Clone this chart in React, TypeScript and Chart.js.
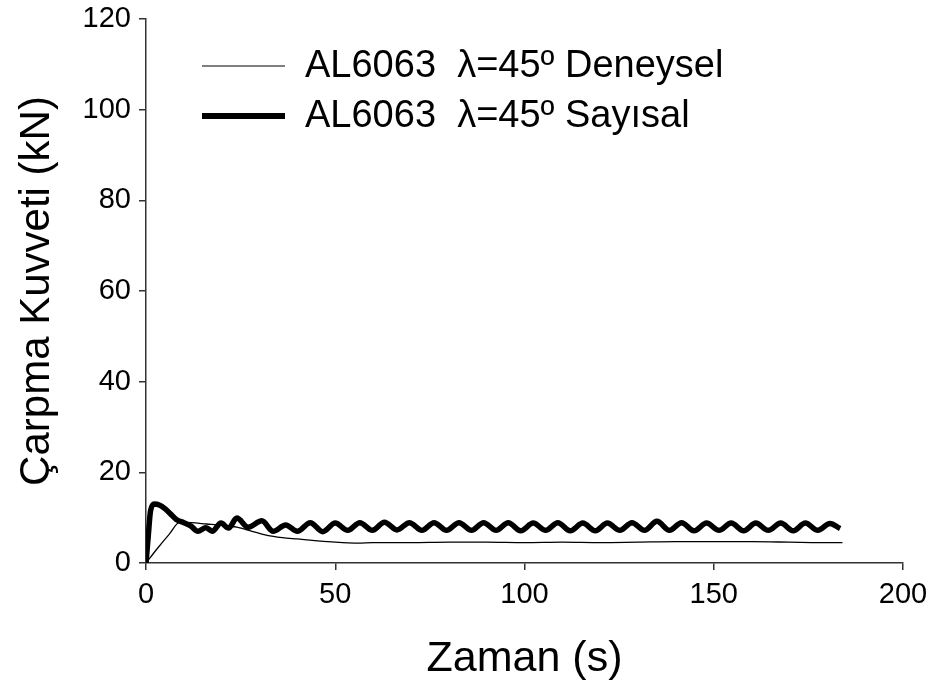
import React, { useEffect, useRef } from "react";
import { Chart, registerables } from "chart.js";

Chart.register(...registerables);

const FONT = "'Liberation Sans', Arial, sans-serif";

const xTitle = "Zaman (s)";
const yTitle = "Çarpma Kuvveti (kN)";
const seriesLabels = ["AL6063  λ=45º Deneysel", "AL6063  λ=45º Sayısal"];

// Deneysel (experimental)
const expTime = [0, 3, 6, 9, 12, 16, 20, 24, 28, 32, 36, 40, 44, 48, 52, 56, 60, 70, 80, 90, 100, 110, 120, 130, 140, 150, 160, 170, 178, 184];
const expForce = [0, 3.2, 6.2, 9.0, 8.9, 8.6, 8.3, 7.9, 7.0, 6.1, 5.6, 5.3, 5.0, 4.7, 4.5, 4.4, 4.5, 4.5, 4.6, 4.6, 4.5, 4.6, 4.5, 4.6, 4.7, 4.7, 4.7, 4.6, 4.5, 4.5];

// Sayısal (numerical)
const numTime = [
  0, 0.6, 1.2, 2.2, 3.5, 5, 6.5, 8, 10, 11.8, 13.7, 15.8, 17.5, 19.8, 21.8, 24, 27, 30.6, 33.6, 36.9, 40, 43.4, 46.7,
  50.0, 53.3, 56.5, 59.8, 63.0, 66.3, 69.6, 72.9, 76.1, 79.4, 82.7, 86.0, 89.2, 92.5, 95.7, 99.0, 102.3, 105.6,
  108.8, 112.1, 115.4, 118.7, 121.9, 125.2, 128.4, 131.7, 135.0, 138.3, 141.5, 144.8, 148.1, 151.4, 154.6, 157.9,
  161.1, 164.4, 167.7, 171.0, 174.2, 177.5, 180.7, 183.4,
];
const numForce = [
  0, 6, 11.5, 13.0, 12.8, 12.0, 10.8, 9.6, 8.9, 8.2, 7.0, 7.8, 7.0, 8.8, 7.7, 9.9, 7.9, 9.3, 7.0, 8.4, 7.0, 8.9, 6.9,
  8.8, 7.2, 8.9, 7.2, 9.0, 7.3, 8.9, 7.2, 8.9, 7.2, 8.9, 7.2, 8.9, 7.2, 8.9, 7.1, 8.8, 7.2,
  8.9, 7.1, 8.8, 7.1, 8.8, 7.2, 8.9, 7.2, 9.2, 7.2, 8.9, 7.1, 8.8, 7.2, 8.8, 7.1,
  8.8, 7.2, 8.8, 7.1, 8.8, 7.2, 8.7, 7.6,
];

const legendPlugin = {
  id: "insideLegend",
  afterDraw(chart: any) {
    const ctx = chart.ctx;
    const items = [
      { y: 66, w: 1, label: chart.data.datasets[0].label },
      { y: 116, w: 6, label: chart.data.datasets[1].label },
    ];
    ctx.save();
    for (const it of items) {
      ctx.strokeStyle = "#000";
      ctx.lineWidth = it.w;
      ctx.beginPath();
      ctx.moveTo(202, it.y);
      ctx.lineTo(285, it.y);
      ctx.stroke();
      ctx.fillStyle = "#000";
      ctx.font = `38px ${FONT}`;
      ctx.textBaseline = "middle";
      ctx.textAlign = "left";
      ctx.fillText(it.label, 305, it.y + 1);
    }
    ctx.restore();
  },
};

const noPad = (s: any) => {
  s.paddingTop = 0;
  s.paddingBottom = 0;
  s.paddingLeft = 0;
  s.paddingRight = 0;
};

export default function App() {
  const ref = useRef<HTMLCanvasElement>(null);
  useEffect(() => {
    const canvas = ref.current!;
    const chart = new Chart(canvas, {
      type: "line",
      data: {
        datasets: [
          {
            label: seriesLabels[0],
            data: expTime.map((t, i) => ({ x: t, y: expForce[i] })),
            borderColor: "#000",
            borderWidth: 1.3,
            pointRadius: 0,
            cubicInterpolationMode: "monotone",
            fill: false,
          },
          {
            label: seriesLabels[1],
            data: numTime.map((t, i) => ({ x: t, y: numForce[i] })),
            borderColor: "#000",
            borderWidth: 5.5,
            pointRadius: 0,
            cubicInterpolationMode: "monotone",
            fill: false,
          },
        ],
      },
      options: {
        animation: false,
        responsive: false,
        devicePixelRatio: 1,
        layout: { padding: { top: 19, right: 28, left: 0, bottom: 0 } },
        plugins: { legend: { display: false }, tooltip: { enabled: false } },
        scales: {
          x: {
            type: "linear",
            min: 0,
            max: 200,
            afterFit: (s: any) => { s.height = 125; noPad(s); },
            ticks: { stepSize: 50, color: "#000", font: { family: FONT, size: 29 }, padding: 8, maxRotation: 0 },
            grid: { display: true, drawOnChartArea: false, drawTicks: true, tickLength: 7, color: "#333", lineWidth: 1.5 },
            border: { display: true, color: "#333", width: 1.5 },
            title: { display: true, text: xTitle, color: "#000", font: { family: FONT, size: 43 }, padding: { top: 0, bottom: 3 } },
          },
          y: {
            type: "linear",
            min: 0,
            max: 120,
            afterFit: (s: any) => { s.width = 146; noPad(s); },
            ticks: { stepSize: 20, color: "#000", font: { family: FONT, size: 29 }, padding: 8 },
            grid: { display: true, drawOnChartArea: false, drawTicks: true, tickLength: 7, color: "#333", lineWidth: 1.5 },
            border: { display: true, color: "#333", width: 1.5 },
            title: { display: true, text: yTitle, color: "#000", font: { family: FONT, size: 42 }, padding: { top: 12, bottom: 0 } },
          },
        },
      },
      plugins: [legendPlugin],
    } as any);
    return () => chart.destroy();
  }, []);
  return (
    <div style={{ position: "absolute", left: 0, top: 0, width: 931, height: 688, background: "#fff" }}>
      <canvas ref={ref} width={931} height={688} style={{ width: 931, height: 688, display: "block" }} />
    </div>
  );
}
